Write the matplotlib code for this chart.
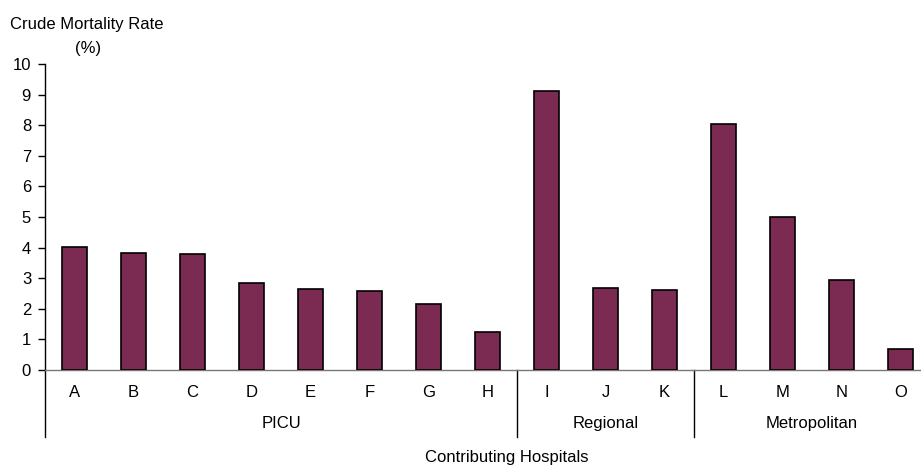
import matplotlib.pyplot as plt
import numpy as np

plt.rcParams['font.family'] = ['Liberation Sans', 'DejaVu Sans']

hospitals = ['A', 'B', 'C', 'D', 'E', 'F', 'G', 'H', 'I', 'J', 'K', 'L', 'M', 'N', 'O']
rates = [4.03, 3.83, 3.78, 2.83, 2.64, 2.58, 2.16, 1.25, 9.13, 2.68, 2.62, 8.03, 4.99, 2.94, 0.69]
groups = ['PICU', 'Regional', 'Metropolitan']
group_sizes = [8, 3, 4]

W, H = 921, 465
fs = 12
fig = plt.figure(figsize=(W / 100, H / 100), dpi=100)
ax = fig.add_axes([45 / W, 95 / H, 885 / W, 306 / H])

x = np.arange(len(hospitals))
ax.bar(x, rates, width=0.41, color='#7b2b51', edgecolor='black', linewidth=1.2, zorder=3)

ax.set_xlim(-0.5, len(hospitals) - 0.5)
ax.set_ylim(0, 10)
ax.set_yticks(range(0, 11))
ax.tick_params(axis='y', direction='out', length=5, width=1, labelsize=fs, pad=5)
ax.set_xticks([])

for s in ['top', 'right']:
    ax.spines[s].set_visible(False)
ax.spines['left'].set_linewidth(1)
ax.spines['bottom'].set_color('#777777')
ax.spines['bottom'].set_linewidth(1)

# category letters, group names and group dividers below the axis
trans = ax.get_xaxis_transform()
for xi, lab in zip(x, hospitals):
    ax.text(xi, -22 / 306, lab, transform=trans, ha='center', va='center', fontsize=fs)

edges = np.concatenate([[0], np.cumsum(group_sizes)]) - 0.5
for e in edges:
    ax.plot([e, e], [0, -67 / 306], transform=trans, color='black', lw=1, clip_on=False)
for g, a, b in zip(groups, edges[:-1], edges[1:]):
    ax.text((a + b) / 2, -53 / 306, g, transform=trans, ha='center', va='center', fontsize=fs)

fig.text(507 / W, 1 - 457 / H, 'Contributing Hospitals', ha='center', va='center', fontsize=fs)
fig.text(10 / W, 1 - 24 / H, 'Crude Mortality Rate', ha='left', va='center', fontsize=fs)
fig.text(88 / W, 1 - 48 / H, '(%)', ha='center', va='center', fontsize=fs)

fig.savefig('out.png', dpi=100)
